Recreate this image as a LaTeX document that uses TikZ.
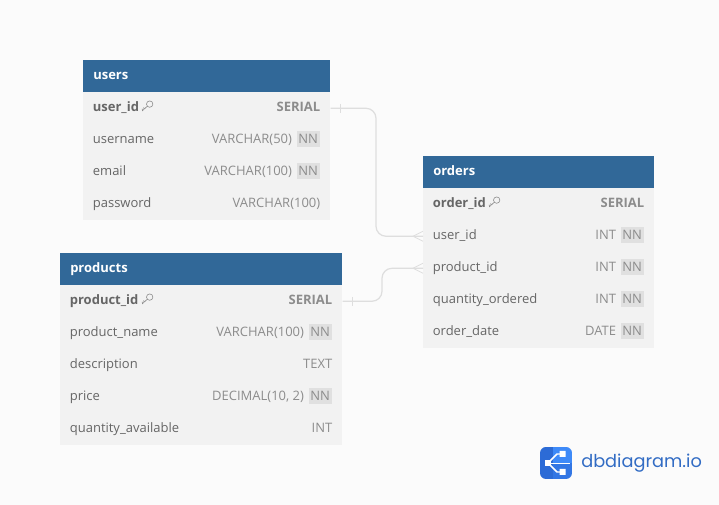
\documentclass[tikz,border=0pt]{standalone}
\usepackage{fontspec}
\setmainfont{Open Sans}
\newfontfamily\logofont{Poppins}

\definecolor{pagebg}{RGB}{251,251,251}
\definecolor{headblue}{RGB}{49,104,152}
\definecolor{bodygray}{RGB}{242,242,242}
\definecolor{textgray}{RGB}{102,102,102}
\definecolor{typegray}{RGB}{140,140,140}
\definecolor{badgegray}{RGB}{224,224,224}
\definecolor{relgray}{RGB}{222,222,222}
\definecolor{logoblue}{RGB}{44,107,214}
\definecolor{logomid}{RGB}{50,118,228}
\definecolor{logolight}{RGB}{62,138,248}
\definecolor{logotextblue}{RGB}{50,108,196}

\tikzset{
  headbox/.style={fill=headblue,text=white,inner sep=0pt,minimum height=24pt,text width=#1-15pt,inner xsep=7.5pt,align=left,text height=8pt,text depth=2.8pt,font=\fontsize{9.75}{12}\selectfont\bfseries,anchor=north west,minimum width=#1},
  rowbox/.style={fill=bodygray,inner sep=0pt,minimum height=24pt,minimum width=#1,anchor=north west},
  colname/.style={inner sep=0pt,text=textgray,text height=8pt,text depth=2.8pt,font=\fontsize{9.75}{12}\selectfont,anchor=west,xshift=7.2pt},
  keyname/.style={colname,font=\fontsize{9.75}{12}\selectfont\bfseries},
  coltype/.style={inner sep=0pt,text=typegray,text height=8pt,text depth=2.8pt,font=\fontsize{9.75}{12}\selectfont,anchor=east,xshift=-7.5pt},
  keytype/.style={coltype,font=\fontsize{9.75}{12}\selectfont\bfseries},
  nnbadge/.style={fill=badgegray,text=typegray,inner sep=0pt,minimum width=17.5pt,minimum height=12pt,text height=7.5pt,text depth=0pt,font=\fontsize{9.75}{12}\selectfont,anchor=east,xshift=-7.8pt,yshift=1.1pt},
  nntype/.style={inner sep=0pt,text=typegray,font=\fontsize{9.75}{12}\selectfont,anchor=base east,xshift=-3pt},
  relline/.style={draw=relgray,line width=0.9pt,rounded corners=7.5pt},
  crow/.style={draw=relgray,line width=0.6pt},
  keyicon/.pic={
    \draw [typegray,line width=0.45pt] (2.2,2.4) circle (3.2) ;
    \draw [typegray,line width=0.45pt] (-0.2,0.3) -- (-5,-4.2) -- (-5.4,-2.2) (-3.4,-2.6) -- (-3.9,-0.9) ;
  }
}

\begin{document}
\begin{tikzpicture}[x=0.75pt,y=0.75pt,yscale=-1,xscale=1]
        \useasboundingbox [fill=pagebg] (0,0) rectangle (719,505) ;

        % users
        \node (usershead) [headbox=185.25pt] at (83,60) {users};
        \node (usersid) [rowbox=185.25pt] at (83,92) {};
        \node (usersname) [rowbox=185.25pt] at (83,124) {};
        \node (usersmail) [rowbox=185.25pt] at (83,156) {};
        \node (userspass) [rowbox=185.25pt] at (83,188) {};
        \node (usersidn) [keyname] at (usersid.west) {user\_id};
        \node (usersidt) [keytype] at (usersid.east) {SERIAL};
        \node (usersnamen) [colname] at (usersname.west) {username};
        \node (usersnameb) [nnbadge] at (usersname.east) {NN};
        \node (usersnamet) [nntype] at (usersnameb.base west) {VARCHAR(50)};
        \node (usersmailn) [colname] at (usersmail.west) {email};
        \node (usersmailb) [nnbadge] at (usersmail.east) {NN};
        \node (usersmailt) [nntype] at (usersmailb.base west) {VARCHAR(100)};
        \node (userspassn) [colname] at (userspass.west) {password};
        \node (userspasst) [coltype] at (userspass.east) {VARCHAR(100)};
        \pic at (147.5,106.5) {keyicon};

        % products
        \node (prodhead) [headbox=211.5pt] at (60,253) {products};
        \node (prodid) [rowbox=211.5pt] at (60,285) {};
        \node (prodname) [rowbox=211.5pt] at (60,317) {};
        \node (proddesc) [rowbox=211.5pt] at (60,349) {};
        \node (prodprice) [rowbox=211.5pt] at (60,381) {};
        \node (prodqty) [rowbox=211.5pt] at (60,413) {};
        \node (prodidn) [keyname] at (prodid.west) {product\_id};
        \node (prodidt) [keytype] at (prodid.east) {SERIAL};
        \node (prodnamen) [colname] at (prodname.west) {product\_name};
        \node (prodnameb) [nnbadge] at (prodname.east) {NN};
        \node (prodnamet) [nntype] at (prodnameb.base west) {VARCHAR(100)};
        \node (proddescn) [colname] at (proddesc.west) {description};
        \node (proddesct) [coltype] at (proddesc.east) {TEXT};
        \node (prodpricen) [colname] at (prodprice.west) {price};
        \node (prodpriceb) [nnbadge] at (prodprice.east) {NN};
        \node (prodpricet) [nntype] at (prodpriceb.base west) {DECIMAL(10, 2)};
        \node (prodqtyn) [colname] at (prodqty.west) {quantity\_available};
        \node (prodqtyt) [coltype] at (prodqty.east) {INT};
        \pic at (147.5,299.5) {keyicon};

        % orders
        \node (ordhead) [headbox=173.25pt] at (423,156) {orders};
        \node (ordid) [rowbox=173.25pt] at (423,188) {};
        \node (orduser) [rowbox=173.25pt] at (423,220) {};
        \node (ordprod) [rowbox=173.25pt] at (423,252) {};
        \node (ordqty) [rowbox=173.25pt] at (423,284) {};
        \node (orddate) [rowbox=173.25pt] at (423,316) {};
        \node (ordidn) [keyname] at (ordid.west) {order\_id};
        \node (ordidt) [keytype] at (ordid.east) {SERIAL};
        \node (ordusern) [colname] at (orduser.west) {user\_id};
        \node (orduserb) [nnbadge] at (orduser.east) {NN};
        \node (ordusert) [nntype] at (orduserb.base west) {INT};
        \node (ordprodn) [colname] at (ordprod.west) {product\_id};
        \node (ordprodb) [nnbadge] at (ordprod.east) {NN};
        \node (ordprodt) [nntype] at (ordprodb.base west) {INT};
        \node (ordqtyn) [colname] at (ordqty.west) {quantity\_ordered};
        \node (ordqtyb) [nnbadge] at (ordqty.east) {NN};
        \node (ordqtyt) [nntype] at (ordqtyb.base west) {INT};
        \node (orddaten) [colname] at (orddate.west) {order\_date};
        \node (orddateb) [nnbadge] at (orddate.east) {NN};
        \node (orddatet) [nntype] at (orddateb.base west) {DATE};
        \pic at (494.5,202.5) {keyicon};

        % relations
        \coordinate (usersbend) at (376,170) ;
        \coordinate (prodbend) at (382,280) ;
        \draw [relline] (usersid.east) -- (usersid.east -| usersbend) -- (orduser.west -| usersbend) -- (orduser.west) ;
        \draw [relline] (prodid.east) -- (prodid.east -| prodbend) -- (ordprod.west -| prodbend) -- (ordprod.west) ;
        \draw [crow] (usersid.east) ++(10,-4.5) -- ++(0,9) ;
        \draw [crow] (prodid.east) ++(10,-4.5) -- ++(0,9) ;
        \draw [crow] (orduser.west) ++(-10,0) -- ++(10,-5) ++(-10,5) -- ++(10,5) ;
        \draw [crow] (ordprod.west) ++(-10,0) -- ++(10,-5) ++(-10,5) -- ++(10,5) ;

        % logo
        \node (logotext) [inner sep=0pt,anchor=west,text=logotextblue,font=\fontsize{13.3}{16}\logofont] at (581,463) {dbdiagram.io};
        \begin{scope}
          \clip [rounded corners=4.5pt] (540,447) rectangle (572,479) ;
          \fill [logoblue] (540,447) rectangle (553,479) ;
          \fill [logolight] (553,447) rectangle (572,463) ;
          \fill [logomid] (553,463) rectangle (572,479) ;
          \draw [white,line width=1.1pt] (565,454) -- (557,454) -- (548,463) -- (557,472) -- (565,472) ;
          \draw [white,line width=0.5pt] (548,463) -- (570,463) ;
          \fill [white] (544.7,460) rectangle (550.7,466) ;
          \fill [white] (559.5,451) rectangle (565.5,457) (559.5,469) rectangle (565.5,475) ;
        \end{scope}
\end{tikzpicture}
\end{document}
